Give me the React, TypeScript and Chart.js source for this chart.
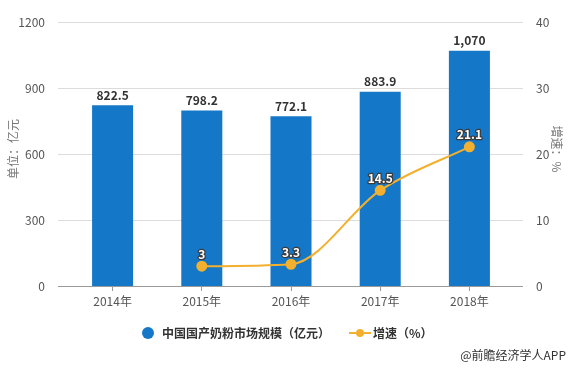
import React, { useEffect, useRef } from "react";
import { Chart, registerables } from "chart.js";

Chart.register(...registerables);

const categories = ["2014年", "2015年", "2016年", "2017年", "2018年"];
const marketSize = [822.5, 798.2, 772.1, 883.9, 1070];
const growth: (number | null)[] = [null, 3, 3.3, 14.5, 21.1];
const leftTicks = [0, 300, 600, 900, 1200];
const rightTicks = [0, 10, 20, 30, 40];
const barLabel = "中国国产奶粉市场规模（亿元）";
const lineLabel = "增速（%）";
const leftTitle = "单位：亿元";
const rightTitle = "增速：%";
const credit = "@前瞻经济学人APP";

const FONT = '"Microsoft YaHei", "Noto Sans CJK SC", sans-serif';
const BLUE = "#1577C7";
const ORANGE = "#F2B02E";

const fmt = (v: number) => v.toLocaleString("en-US");

const decorPlugin = {
  id: "decor",
  beforeDatasetsDraw(chart: any) {
    const ctx = chart.ctx;
    const a = chart.chartArea;
    const y = chart.scales.y;
    ctx.save();
    leftTicks.forEach((t) => {
      const py = Math.round(y.getPixelForValue(t)) + 0.5;
      ctx.strokeStyle = t === 0 ? "#9a9a9a" : "#dcdcdc";
      ctx.lineWidth = 1;
      ctx.beginPath();
      ctx.moveTo(a.left - 10, py);
      ctx.lineTo(a.right + 9, py);
      ctx.stroke();
    });
    ctx.restore();
  },
  afterDatasetsDraw(chart: any) {
    const ctx = chart.ctx;
    ctx.save();
    // bar labels
    const barMeta = chart.getDatasetMeta(0);
    ctx.font = "bold 12px " + FONT;
    ctx.textAlign = "center";
    ctx.textBaseline = "middle";
    ctx.fillStyle = "#333";
    barMeta.data.forEach((el: any, i: number) => {
      ctx.fillText(fmt(marketSize[i]), el.x, el.y - 10);
    });
    // line labels
    const lineMeta = chart.getDatasetMeta(1);
    lineMeta.data.forEach((el: any, i: number) => {
      const v = growth[i];
      if (v == null) return;
      ctx.lineWidth = 2.5;
      ctx.strokeStyle = "#3a3a3a";
      ctx.lineJoin = "round";
      ctx.strokeText(String(v), el.x, el.y - 12);
      ctx.fillStyle = "#fff";
      ctx.fillText(String(v), el.x, el.y - 12);
    });
    // axis titles
    ctx.font = "12px " + FONT;
    ctx.fillStyle = "#777";
    ctx.save();
    ctx.translate(13, 149);
    ctx.rotate(-Math.PI / 2);
    ctx.fillText(leftTitle, 0, 0);
    ctx.restore();
    ctx.save();
    ctx.translate(557, 149);
    ctx.rotate(Math.PI / 2);
    ctx.fillText(rightTitle, 0, 0);
    ctx.restore();
    // legend
    const ly = 333;
    ctx.fillStyle = BLUE;
    ctx.beginPath();
    ctx.arc(148, ly, 6, 0, Math.PI * 2);
    ctx.fill();
    ctx.font = "bold 12px " + FONT;
    ctx.fillStyle = "#333";
    ctx.textAlign = "left";
    ctx.fillText(barLabel, 162, ly);
    ctx.strokeStyle = ORANGE;
    ctx.lineWidth = 2;
    ctx.beginPath();
    ctx.moveTo(349, ly);
    ctx.lineTo(371, ly);
    ctx.stroke();
    ctx.fillStyle = ORANGE;
    ctx.beginPath();
    ctx.arc(360, ly, 4, 0, Math.PI * 2);
    ctx.fill();
    ctx.fillStyle = "#333";
    ctx.fillText(lineLabel, 373, ly);
    // credit
    ctx.font = "12px " + FONT;
    ctx.textAlign = "right";
    ctx.fillStyle = "#333";
    ctx.fillText(credit, 566, 355);
    ctx.restore();
  },
};

export default function App() {
  const ref = useRef<HTMLCanvasElement>(null);
  useEffect(() => {
    if (!ref.current) return;
    const chart = new Chart(ref.current, {
      type: "bar",
      data: {
        labels: categories,
        datasets: [
          {
            type: "bar",
            label: barLabel,
            data: marketSize,
            backgroundColor: BLUE,
            yAxisID: "y",
            barPercentage: 0.92,
            categoryPercentage: 0.5,
            order: 2,
          },
          {
            type: "line",
            label: lineLabel,
            data: growth as any,
            borderColor: ORANGE,
            backgroundColor: ORANGE,
            borderWidth: 2,
            pointRadius: 4.5,
            pointBackgroundColor: ORANGE,
            pointBorderColor: ORANGE,
            cubicInterpolationMode: "monotone",
            yAxisID: "y1",
            order: 1,
          } as any,
        ],
      },
      options: {
        animation: false,
        responsive: false,
        devicePixelRatio: 1,
        layout: { padding: { top: 14, left: 0, right: 0, bottom: 0 } },
        plugins: { legend: { display: false }, tooltip: { enabled: false } },
        scales: {
          x: {
            grid: { display: true, drawOnChartArea: false, drawTicks: true, tickLength: 5, offset: false, color: "#9a9a9a" },
            border: { display: false },
            ticks: { color: "#555", font: { size: 12, family: FONT }, padding: 3 },
            afterFit: (s: any) => {
              s.height = 83;
            },
          },
          y: {
            position: "left",
            min: 0,
            max: 1200,
            afterBuildTicks: (s: any) => {
              s.ticks = leftTicks.map((v) => ({ value: v }));
            },
            grid: { display: false },
            border: { display: false },
            ticks: { color: "#555", font: { size: 12, family: FONT }, padding: 15, callback: (v: any) => String(v) },
            afterFit: (s: any) => {
              s.width = 68;
            },
          },
          y1: {
            position: "right",
            min: 0,
            max: 40,
            afterBuildTicks: (s: any) => {
              s.ticks = rightTicks.map((v) => ({ value: v }));
            },
            grid: { display: false },
            border: { display: false },
            ticks: { color: "#555", font: { size: 12, family: FONT }, padding: 14, callback: (v: any) => String(v) },
            afterFit: (s: any) => {
              s.width = 57;
            },
          },
        },
      },
      plugins: [decorPlugin],
    });
    return () => chart.destroy();
  }, []);
  return (
    <div style={{ position: "fixed", left: 0, top: 0, width: 571, height: 369, background: "#fff" }}>
      <canvas ref={ref} width={571} height={369} style={{ width: 571, height: 369 }} />
    </div>
  );
}
